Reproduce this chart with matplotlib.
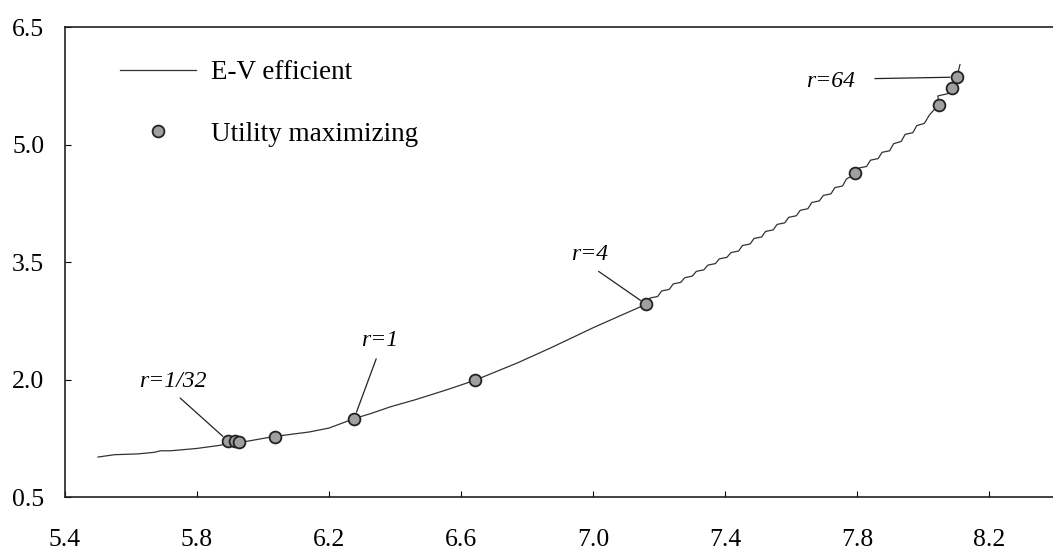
import matplotlib
matplotlib.use("Agg")
import matplotlib.pyplot as plt
from matplotlib.lines import Line2D

plt.rcParams['font.family'] = ['Liberation Serif', 'DejaVu Serif']

# E-V efficient frontier (stepped above r=4)
ev_x = [5.50, 5.55, 5.62, 5.67, 5.69, 5.72, 5.80, 5.87, 5.91, 5.95, 6.03,
        6.14, 6.20, 6.276, 6.33, 6.385, 6.46, 6.558, 6.642, 6.77, 6.87, 7.00,
        7.08, 7.161, 7.173, 7.196, 7.208, 7.231, 7.243, 7.266, 7.278, 7.301,
        7.313, 7.336, 7.348, 7.371, 7.383, 7.406, 7.418, 7.441, 7.453, 7.476,
        7.488, 7.511, 7.523, 7.546, 7.558, 7.581, 7.593, 7.616, 7.628, 7.651,
        7.663, 7.686, 7.698, 7.721, 7.733, 7.756, 7.768, 7.794, 7.806, 7.829,
        7.841, 7.864, 7.876, 7.899, 7.911, 7.934, 7.946, 7.969, 7.981, 8.004,
        8.020, 8.048, 8.045, 8.076, 8.088, 8.103, 8.112]
ev_y = [1.01, 1.04, 1.05, 1.07, 1.09, 1.09, 1.12, 1.16, 1.20, 1.21, 1.27,
        1.33, 1.38, 1.50, 1.57, 1.65, 1.74, 1.87, 1.99, 2.21, 2.40, 2.66,
        2.81, 2.96, 3.04, 3.06, 3.13, 3.15, 3.22, 3.24, 3.30, 3.32,
        3.38, 3.40, 3.46, 3.48, 3.54, 3.56, 3.62, 3.64, 3.71, 3.73,
        3.80, 3.82, 3.89, 3.91, 3.98, 4.00, 4.07, 4.09, 4.16, 4.18,
        4.26, 4.28, 4.35, 4.37, 4.45, 4.47, 4.56, 4.62, 4.70, 4.72,
        4.80, 4.82, 4.90, 4.92, 5.01, 5.04, 5.13, 5.15, 5.24, 5.27,
        5.38, 5.51, 5.62, 5.65, 5.72, 5.86, 6.02]

# utility maximizing portfolios
um_x = [5.894, 5.915, 5.927, 6.036, 6.276, 6.642, 7.161, 7.794, 8.048, 8.088, 8.103]
um_y = [1.215, 1.21, 1.20, 1.27, 1.50, 1.99, 2.96, 4.64, 5.51, 5.72, 5.86]

# labelled points: (text, index into um_*, text position)
r_labels = [("r=1/32", 0, (5.727, 1.98)),
            ("r=1", 4, (6.352, 2.50)),
            ("r=4", 6, (6.991, 3.59)),
            ("r=64", 10, (7.721, 5.81))]

xticks = [5.4, 5.8, 6.2, 6.6, 7.0, 7.4, 7.8, 8.2]
yticks = [0.5, 2.0, 3.5, 5.0, 6.5]

fig = plt.figure(figsize=(10.53, 5.53), dpi=100)
ax = fig.add_axes([65 / 1053, 56 / 553, 990 / 1053, 470 / 553])

ax.plot(ev_x, ev_y, color='#333333', linewidth=0.9)
ax.plot(um_x, um_y, 'o', markersize=8.5, markerfacecolor='#a0a0a0',
        markeredgecolor='#222222', markeredgewidth=1.3)

for text, i, pos in r_labels:
    if text == "r=64":
        rel = (1.0, 0.6)
    else:
        rel = (0.5, 0.0)
    ax.annotate(text, xy=(um_x[i], um_y[i]), xytext=pos, ha='center', va='center',
                fontsize=17, fontstyle='italic',
                arrowprops=dict(arrowstyle='-', color='#222222', linewidth=0.9,
                                relpos=rel, shrinkA=4 if text != "r=64" else 12,
                                shrinkB=5))

ax.set_xlim(5.4, 8.4)
ax.set_ylim(0.5, 6.5)
ax.set_xticks(xticks)
ax.set_yticks(yticks)
ax.set_xticklabels([f"{v:.1f}" for v in xticks])
ax.set_yticklabels([f"{v:.1f}" for v in yticks])
ax.tick_params(axis='both', direction='in', length=4, width=0.8, labelsize=18.5)
ax.tick_params(axis='x', pad=23)
ax.tick_params(axis='y', pad=15)
for s in ax.spines.values():
    s.set_linewidth(1.2)
    s.set_color('#222222')

handles = [Line2D([], [], color='#333333', linewidth=0.9),
           Line2D([], [], marker='o', linestyle='none', markersize=8.5,
                  markerfacecolor='#a0a0a0', markeredgecolor='#222222',
                  markeredgewidth=1.3)]
ax.legend(handles, ["E-V efficient", "Utility maximizing"], loc='upper left',
          bbox_to_anchor=(0.0556, 0.929), frameon=False, fontsize=19.5,
          handlelength=2.8, handletextpad=0.55, labelspacing=1.35,
          borderpad=0, borderaxespad=0)

fig.savefig("out.png", dpi=100)
